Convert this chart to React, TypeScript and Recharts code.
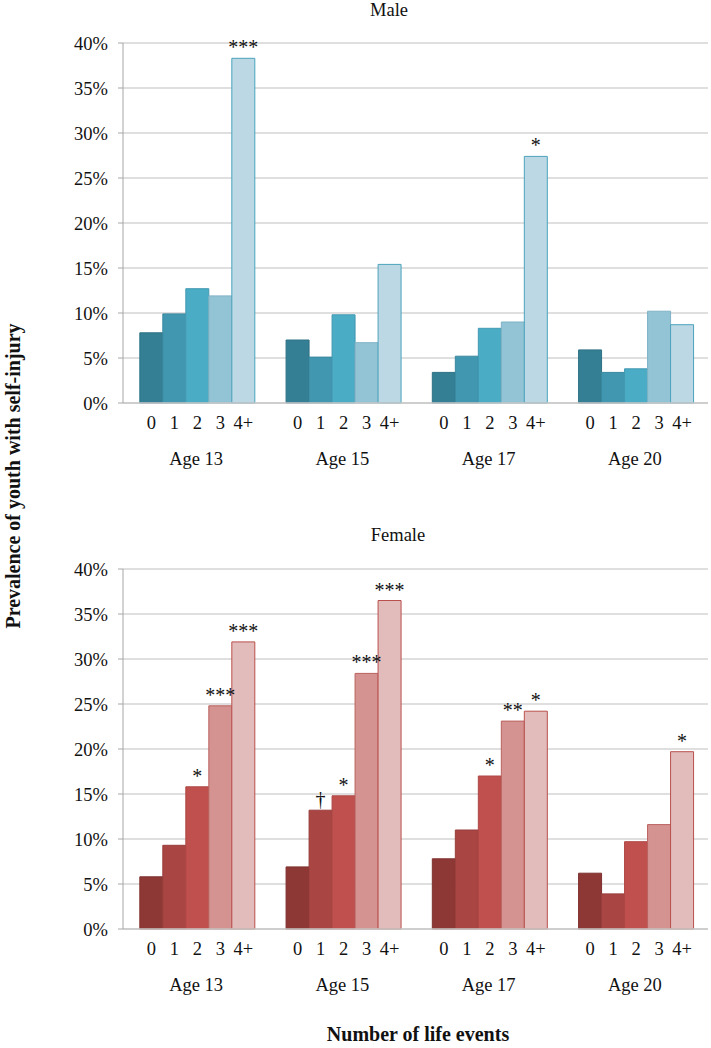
import React from 'react';
import { BarChart, Bar, XAxis, YAxis, CartesianGrid, LabelList } from 'recharts';

const ages = ['Age 13', 'Age 15', 'Age 17', 'Age 20'];
const eventCounts = ['0', '1', '2', '3', '4+'];
const yTicks = [0, 5, 10, 15, 20, 25, 30, 35, 40];

// prevalence (%) by number of life events, one value per age
const male0 = [7.8, 7.0, 3.4, 5.9];
const male1 = [9.9, 5.1, 5.2, 3.4];
const male2 = [12.7, 9.8, 8.3, 3.8];
const male3 = [11.9, 6.7, 9.0, 10.2];
const male4 = [38.3, 15.4, 27.4, 8.7];

const female0 = [5.8, 6.9, 7.8, 6.2];
const female1 = [9.3, 13.2, 11.0, 3.9];
const female2 = [15.8, 14.8, 17.0, 9.7];
const female3 = [24.8, 28.4, 23.1, 11.6];
const female4 = [31.9, 36.5, 24.2, 19.7];

// significance marks above bars
const none = ['', '', '', ''];
const maleSig4 = ['***', '', '*', ''];
const femaleSig1 = ['', '†', '', ''];
const femaleSig2 = ['*', '*', '*', ''];
const femaleSig3 = ['***', '***', '**', ''];
const femaleSig4 = ['***', '***', '*', '*'];

const MALE_FILL = ['#347F93', '#4197B0', '#4BACC6', '#93C4D5', '#BCD8E4'];
const MALE_STROKE = ['#2E7285', '#3A889F', '#4399B1', '#7FB2C5', '#4BA3BC'];
const FEMALE_FILL = ['#8E3835', '#A94543', '#C0504D', '#D49391', '#E2BBBB'];
const FEMALE_STROKE = ['#7F312F', '#983E3C', '#AD4845', '#BA625F', '#B9504D'];

const FONT = '"Liberation Serif", "Times New Roman", serif';
const TEXT = '#111';

const buildRows = (series: number[][], sigs: string[][]) =>
  ages.map((age, i) => {
    const row: Record<string, string | number> = { age };
    series.forEach((s, k) => {
      row[`v${k}`] = s[i];
      row[`s${k}`] = sigs[k][i];
    });
    return row;
  });

const maleData = buildRows([male0, male1, male2, male3, male4], [none, none, none, none, maleSig4]);
const femaleData = buildRows(
  [female0, female1, female2, female3, female4],
  [none, femaleSig1, femaleSig2, femaleSig3, femaleSig4]
);

const box = (p: any) => (p.viewBox && p.viewBox.width != null ? p.viewBox : p);

const AgeTick = ({ x, y, payload }: any) => (
  <text x={x} y={y + 62} textAnchor="middle" fontSize={18.5} fontFamily={FONT} fill={TEXT}>
    {payload.value}
  </text>
);

function Panel({ data, fills, strokes, top, marginTop }: any) {
  return (
    <div style={{ position: 'absolute', left: 0, top }}>
      <BarChart
        width={711}
        height={480}
        data={data}
        margin={{ top: marginTop, right: 3, left: 0, bottom: 480 - marginTop - 360 - 70 }}
        barCategoryGap="11.5%"
        barGap={0}
      >
        <CartesianGrid vertical={false} stroke="#D4D4D4" strokeWidth={1.3} />
        <XAxis
          dataKey="age"
          height={70}
          tickLine={false}
          tickSize={0}
          tickMargin={0}
          axisLine={{ stroke: '#C8C8C8', strokeWidth: 1.3 }}
          tick={<AgeTick />}
          interval={0}
        />
        <YAxis
          width={123}
          domain={[0, 40]}
          ticks={yTicks}
          interval={0}
          tickFormatter={(v: number) => `${v}%`}
          tickSize={5}
          tickMargin={10}
          axisLine={{ stroke: '#A6A6A6' }}
          tickLine={{ stroke: '#A6A6A6' }}
          tick={{ fontSize: 18.5, fontFamily: FONT, fill: TEXT }}
        />
        {eventCounts.map((label, k) => (
          <Bar
            key={label}
            dataKey={`v${k}`}
            fill={fills[k]}
            stroke={strokes[k]}
            strokeWidth={1}
            isAnimationActive={false}
          >
            <LabelList
              dataKey={`v${k}`}
              content={(p: any) => {
                const b = box(p);
                return (
                  <text
                    x={b.x + b.width / 2}
                    y={b.y + b.height + 26}
                    textAnchor="middle"
                    fontSize={18.5}
                    fontFamily={FONT}
                    fill={TEXT}
                  >
                    {label}
                  </text>
                );
              }}
            />
            <LabelList
              dataKey={`s${k}`}
              content={(p: any) => {
                if (!p.value) return null;
                const b = box(p);
                return (
                  <text
                    x={b.x + b.width / 2}
                    y={b.y - 4}
                    textAnchor="middle"
                    fontSize={20}
                    fontFamily={FONT}
                    fill={TEXT}
                  >
                    {p.value}
                  </text>
                );
              }}
            />
          </Bar>
        ))}
      </BarChart>
    </div>
  );
}

export default function App() {
  return (
    <div style={{ position: 'absolute', left: 0, top: 0, width: 711, height: 1048, background: '#fff' }}>
      <Panel data={maleData} fills={MALE_FILL} strokes={MALE_STROKE} top={0} marginTop={43} />
      <Panel data={femaleData} fills={FEMALE_FILL} strokes={FEMALE_STROKE} top={520} marginTop={49} />
      <svg
        width={711}
        height={1048}
        style={{ position: 'absolute', left: 0, top: 0, pointerEvents: 'none' }}
      >
        <text x={389} y={16} textAnchor="middle" fontSize={18.5} fontFamily={FONT} fill={TEXT}>
          Male
        </text>
        <text x={398} y={541} textAnchor="middle" fontSize={18.5} fontFamily={FONT} fill={TEXT}>
          Female
        </text>
        <text
          x={13}
          y={476}
          transform="rotate(-90 13 476)"
          textAnchor="middle"
          dominantBaseline="central"
          fontSize={20}
          fontWeight="bold"
          fontFamily={FONT}
          fill={TEXT}
        >
          Prevalence of youth with self-injury
        </text>
        <text
          x={418}
          y={1041}
          textAnchor="middle"
          fontSize={20}
          fontWeight="bold"
          fontFamily={FONT}
          fill={TEXT}
        >
          Number of life events
        </text>
      </svg>
    </div>
  );
}
